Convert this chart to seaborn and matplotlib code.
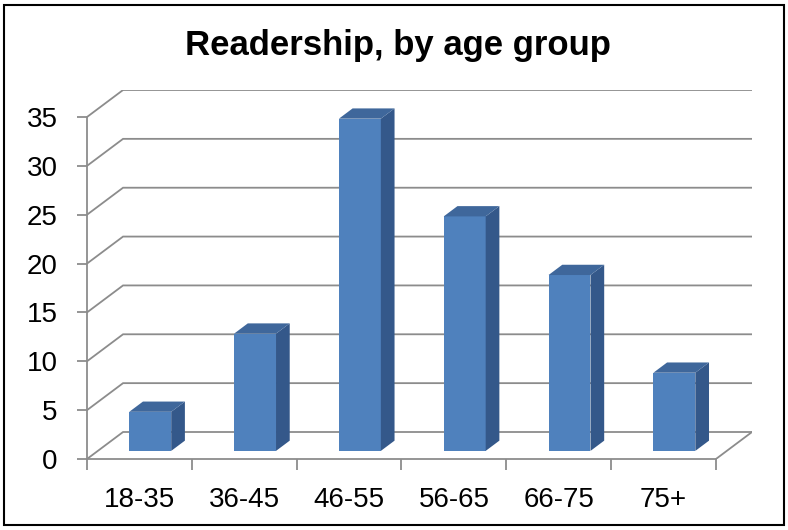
import numpy as np
import pandas as pd
import seaborn as sns
import matplotlib.pyplot as plt
from matplotlib.patches import Polygon, Rectangle

age_groups = ['18-35', '36-45', '46-55', '56-65', '66-75', '75+']
readers = [4, 12, 34, 24, 18, 8]
y_ticks = [0, 5, 10, 15, 20, 25, 30, 35]

sns.set_theme(style='white')
plt.rcParams['font.family'] = ['Liberation Sans', 'DejaVu Sans']

W, H = 788, 530
fig = plt.figure(figsize=(W / 100, H / 100), dpi=100)

# plot area in pixels (front axis left/bottom, back wall right/top)
left_px, right_px = 87, 752
bottom_px, top_px = 459, 90
ax = fig.add_axes([left_px / W, 1 - bottom_px / H,
                   (right_px - left_px) / W, (bottom_px - top_px) / H])

# fake 3d depth, in data units
DX = 36 / ((715 - 87) / 6)
DY = 27 / (342 / 35)
grid_col = '#8c8c8c'
front_col, side_col, top_col = '#4f81bd', '#34588a', '#3f679b'

n = len(age_groups)
x0, x1 = -0.5, n - 0.5
top_v = y_ticks[-1]

# back wall + side wall gridlines
for v in y_ticks:
    ax.plot([x0, x0 + DX, x1 + DX], [v, v + DY, v + DY],
            color=grid_col, lw=1.3, zorder=1, solid_joinstyle='miter')
# floor right edge
ax.plot([x1, x1 + DX], [0, DY], color=grid_col, lw=1.3, zorder=1)

df = pd.DataFrame({'age': age_groups, 'readers': readers})
sns.barplot(data=df, x='age', y='readers', color=front_col, saturation=1,
            width=0.4, ax=ax, zorder=3, linewidth=0)

# bars sit in the middle of the floor depth
d_front, d_back = 0.3, 0.68
fx, fy = d_front * DX, d_front * DY
bx, by = d_back * DX, d_back * DY
for p in list(ax.patches):
    x, w, h = p.get_x(), p.get_width(), p.get_height()
    p.set_xy((x + fx, fy))
    side = Polygon([(x + w + fx, fy), (x + w + fx, h + fy),
                    (x + w + bx, h + by), (x + w + bx, by)],
                   closed=True, facecolor=side_col, edgecolor='none', zorder=3)
    top = Polygon([(x + fx, h + fy), (x + w + fx, h + fy),
                   (x + w + bx, h + by), (x + bx, h + by)],
                  closed=True, facecolor=top_col, edgecolor='none', zorder=3)
    ax.add_patch(side)
    ax.add_patch(top)

ax.set_xlim(x0, x1 + DX)
ax.set_ylim(0, top_v + DY)

ax.set_yticks(y_ticks)
ax.set_yticklabels([str(v) for v in y_ticks], fontsize=20)
ax.set_xticks(np.arange(x0, x1 + 0.01, 1))
ax.set_xticklabels([''] * (n + 1))
ax.set_xticks(range(n), minor=True)
ax.set_xticklabels(age_groups, minor=True, fontsize=20)

ax.tick_params(axis='y', left=True, direction='out', length=7, width=1.3,
               color=grid_col, pad=14, labelcolor='black')
ax.tick_params(axis='x', which='major', bottom=True, direction='out',
               length=8, width=1.3, color=grid_col)
ax.tick_params(axis='x', which='minor', bottom=True, length=0,
               pad=20, labelcolor='black')

for s in ['top', 'right']:
    ax.spines[s].set_visible(False)
ax.spines['left'].set_bounds(0, top_v)
ax.spines['bottom'].set_bounds(x0, x1)
for s in ['left', 'bottom']:
    ax.spines[s].set_color(grid_col)
    ax.spines[s].set_linewidth(1.3)
ax.set_xlabel('')
ax.set_ylabel('')

fig.text(398 / W, 1 - 55 / H, 'Readership, by age group', ha='center',
         va='baseline', fontsize=25, fontweight='bold', color='black')

fig.add_artist(Rectangle((4 / W, 5 / H), 780 / W, 520 / H,
                         transform=fig.transFigure, fill=False,
                         lw=1.5, ec='black'))

fig.savefig('out.png', dpi=100)
